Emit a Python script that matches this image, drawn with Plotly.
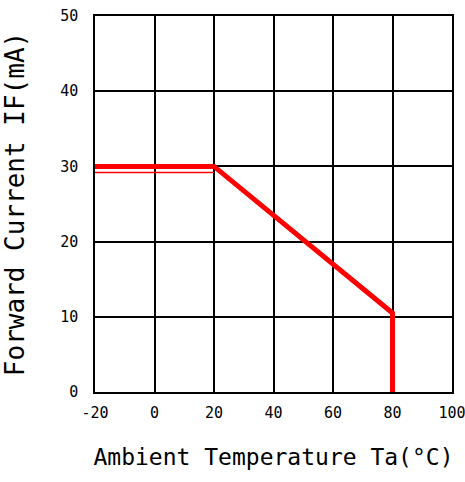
import plotly.graph_objects as go

# Derating curve data
temp = [-20, 20, 80, 80]
current = [30, 30, 10.5, 0]
# thin secondary line under the flat section
temp_edge = [-20, 20]
current_edge = [29.2, 29.2]

x_ticks = [-20, 0, 20, 40, 60, 80, 100]
y_ticks = [0, 10, 20, 30, 40, 50]

FONT = "DejaVu Sans Mono"

fig = go.Figure()
fig.add_trace(go.Scatter(x=temp_edge, y=current_edge, mode="lines",
                         line=dict(color="#ff0000", width=1.5), showlegend=False))
fig.add_trace(go.Scatter(x=temp, y=current, mode="lines",
                         line=dict(color="#ff0000", width=5), showlegend=False))

fig.update_layout(
    width=465, height=482,
    margin=dict(l=95, r=13, t=16, b=90),
    paper_bgcolor="white", plot_bgcolor="white",
    font=dict(family=FONT, color="black", size=15),
    xaxis=dict(range=[-20, 100], tickvals=x_ticks, ticktext=[str(v) for v in x_ticks],
               showgrid=True, gridcolor="black", gridwidth=1.5, automargin=False,
               showline=True, linecolor="black", linewidth=1.5, mirror=True,
               zeroline=False, ticks="", ticklabelstandoff=6, ticklabeloverflow="allow",
               title=dict(text="Ambient Temperature Ta(°C)", font=dict(size=23, family=FONT),
                          standoff=28)),
    yaxis=dict(range=[0, 50], tickvals=y_ticks, ticktext=[str(v) for v in y_ticks],
               showgrid=True, gridcolor="black", gridwidth=1.5, automargin=False,
               showline=True, linecolor="black", linewidth=1.5, mirror=True,
               zeroline=False, ticks="", ticklabelstandoff=12, ticklabeloverflow="allow",
               title=dict(text="Forward Current IF(mA)", font=dict(size=26, family=FONT),
                          standoff=34)),
)

fig.write_html("out.html")
